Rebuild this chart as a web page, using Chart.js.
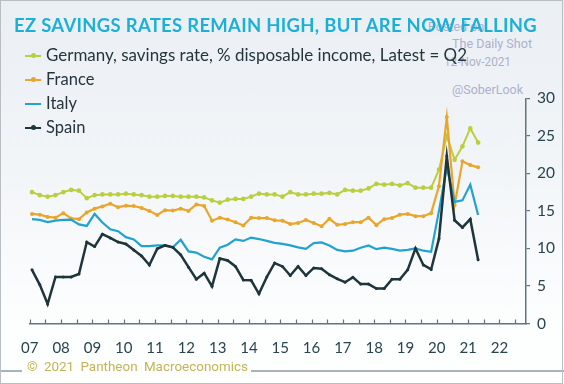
<!DOCTYPE html>
<html>
<head>
<meta charset="utf-8">
<script src="https://cdn.jsdelivr.net/npm/chart.js@4.4.1/dist/chart.umd.min.js"></script>
<style>
  html, body { margin: 0; padding: 0; background: #fff; }
  #wrap { position: relative; width: 564px; height: 384px; overflow: hidden; font-family: Lato, "Noto Sans", sans-serif; }
  #bg { position: absolute; left: 0; top: 0; width: 564px; height: 372px;
        background: linear-gradient(#eaeff4 0%, #f2f5f8 45%, #fdfefe 88%); }
  #frame { position: absolute; left: 0; top: 0; width: 563px; height: 384px; box-sizing: border-box;
           border: 1.5px solid #b9bec2; }
  canvas { position: absolute; left: 0; top: 0; }
  .txt { position: absolute; white-space: nowrap; transform-origin: 0 50%; line-height: 1; }
  #title { left: 14px; top: 16px; font-size: 18px; font-weight: 700; color: #1cb0d9; letter-spacing: 0.3px; }
  .wm { color: #aeb0cc; font-size: 12.5px; font-family: Roboto, sans-serif; }
  .leg { left: 46px; font-size: 16.5px; color: #26353b; }
  .mark { position: absolute; left: 25px; width: 16px; height: 2.5px; }
  .dot { position: absolute; left: 5.5px; top: -1.5px; width: 5px; height: 5px; border-radius: 50%; }
  .sep { position: absolute; top: 370px; height: 2px; background: #a9b3ba; }
  #foot { left: 27px; top: 360px; font-size: 13.5px; color: #c3b455; word-spacing: 3px; font-family: Roboto, sans-serif; }
</style>
</head>
<body>
<div id="wrap">
  <div id="bg"></div>
  <div class="txt wm" style="left:428px;top:21px;">Posted on</div>
  <div class="txt wm" data-w="80" style="left:452px;top:37px;font-size:13.5px;">The Daily Shot</div>
  <div class="txt wm" data-w="67" style="left:444px;top:56px;">12-Nov-2021</div>
  <div class="txt wm" data-w="71" style="left:452px;top:83px;font-size:13.5px;">@SoberLook</div>
  <canvas id="chart" width="564" height="384"></canvas>
  <div id="title" class="txt" data-w="523">EZ SAVINGS RATES REMAIN HIGH, BUT ARE NOW FALLING</div>
  <div id="legend"></div>
  <div class="sep" style="left:0;width:22px;"></div>
  <div class="sep" style="left:251px;width:313px;"></div>
  <div id="foot" class="txt" data-w="221">© 2021 Pantheon Macroeconomics</div>
  <div id="frame"></div>
</div>
<script>
// Quarterly data, 2007 Q1 .. 2021 Q2
const startYear = 2007;
const seriesNames = ['Germany, savings rate, % disposable income, Latest = Q2', 'France', 'Italy', 'Spain'];

const germany = [17.5, 17.1, 16.9, 17.1, 17.5, 17.8, 17.7, 16.7, 17.1, 17.2,
  17.2, 17.2, 17.3, 17.2, 17.1, 16.9, 16.9, 17.0, 17.0, 16.9,
  16.9, 16.9, 16.8, 16.4, 16.1, 16.5, 16.6, 16.6, 16.9, 17.3,
  17.2, 17.2, 16.9, 17.5, 17.2, 17.2, 17.3, 17.3, 17.4, 17.2,
  17.8, 17.7, 17.7, 18.0, 18.6, 18.5, 18.6, 18.4, 18.7, 18.1,
  18.1, 18.1, 20.5, 25.0, 21.8, 23.6, 26.0, 24.1];
const france = [14.6, 14.5, 14.2, 14.1, 14.7, 14.0, 13.9, 14.8, 15.3, 15.6,
  15.95, 15.5, 15.7, 15.65, 15.4, 15.0, 14.45, 15.1, 15.05, 15.3,
  15.0, 15.85, 15.65, 13.7, 14.1, 13.85, 13.5, 13.05, 14.1, 14.05,
  14.05, 13.75, 13.7, 13.25, 13.4, 13.8, 13.4, 12.95, 13.95, 13.15,
  13.25, 13.5, 13.5, 14.1, 13.1, 13.9, 14.05, 14.5, 14.6, 14.3,
  14.3, 14.7, 18.3, 27.5, 15.8, 21.6, 21.1, 20.8];
const italy = [13.9, 13.8, 13.5, 13.7, 13.8, 13.85, 13.2, 13.0, 14.6, 13.45,
  12.55, 12.3, 11.5, 11.2, 10.3, 10.3, 10.4, 10.4, 10.15, 11.15,
  9.6, 9.45, 8.9, 8.55, 10.1, 10.5, 11.2, 11.0, 11.45, 11.25,
  11.0, 10.75, 10.6, 10.4, 10.15, 9.95, 10.7, 10.8, 10.4, 9.8,
  9.6, 9.7, 10.1, 10.4, 9.9, 10.1, 9.95, 9.7, 9.8, 10.0,
  9.7, 9.55, 15.0, 20.8, 16.2, 16.4, 18.5, 14.45];
const spain = [7.15, 5.15, 2.6, 6.2, 6.2, 6.2, 6.6, 10.85, 10.25, 11.9,
  11.4, 10.85, 10.6, 9.8, 9.0, 7.8, 9.95, 10.4, 10.15, 9.15,
  7.5, 5.9, 6.7, 4.95, 8.65, 8.4, 7.6, 5.8, 5.75, 3.95,
  6.2, 8.05, 7.6, 6.4, 7.6, 6.4, 7.4, 7.3, 6.5, 5.95,
  5.5, 6.15, 5.25, 5.25, 4.65, 4.65, 5.9, 5.9, 7.15, 10.0,
  7.8, 7.2, 11.3, 22.3, 13.75, 12.8, 13.9, 8.5];

const yearLabels = ['07', '08', '09', '10', '11', '12', '13', '14', '15', '16', '17', '18', '19', '20', '21', '22'];
const yTicks = [0, 5, 10, 15, 20, 25, 30];

const colors = ['#b9cf3f', '#e9a62b', '#21a2cf', '#1e353b'];
const axisColor = '#62757c';
const labelColor = '#28444c';

// quarter position on the time axis
const quarterX = germany.map((_, i) => startYear + i / 4 + 0.07);
const toPoints = arr => arr.map((v, i) => ({ x: quarterX[i], y: v }));

// legend (html)
const legend = document.getElementById('legend');
const rowY = [55, 79, 103, 127];
seriesNames.forEach((name, i) => {
  const t = document.createElement('div');
  t.className = 'txt leg';
  t.style.top = (rowY[i] - 8) + 'px';
  t.textContent = name;
  if (i === 0) t.dataset.w = 421;
  legend.appendChild(t);
  const m = document.createElement('div');
  m.className = 'mark';
  m.style.top = (rowY[i] - 0.5) + 'px';
  m.style.background = colors[i];
  if (i !== 2) {
    const d = document.createElement('div');
    d.className = 'dot';
    d.style.background = colors[i];
    m.appendChild(d);
  }
  legend.appendChild(m);
});

// small ticks pointing up from the x axis
const xTicksInside = {
  id: 'xTicksInside',
  afterDraw(chart) {
    const xs = chart.scales.x;
    const ctx = chart.ctx;
    const y0 = chart.chartArea.bottom;
    ctx.save();
    ctx.strokeStyle = axisColor;
    ctx.lineWidth = 1.2;
    xs.ticks.forEach(t => {
      const px = Math.round(xs.getPixelForValue(t.value)) + 0.5;
      ctx.beginPath();
      ctx.moveTo(px, y0);
      ctx.lineTo(px, y0 - 4);
      ctx.stroke();
    });
    ctx.restore();
  }
};

const datasets = [
  { label: seriesNames[0], data: toPoints(germany), borderColor: colors[0], backgroundColor: colors[0],
    borderWidth: 2, pointRadius: 2.3, pointBorderWidth: 0, order: 4 },
  { label: seriesNames[1], data: toPoints(france), borderColor: colors[1], backgroundColor: colors[1],
    borderWidth: 2.2, pointRadius: 2, pointBorderWidth: 0, order: 3 },
  { label: seriesNames[2], data: toPoints(italy), borderColor: colors[2], backgroundColor: colors[2],
    borderWidth: 2.2, pointRadius: 0, order: 2 },
  { label: seriesNames[3], data: toPoints(spain), borderColor: colors[3], backgroundColor: colors[3],
    borderWidth: 2.5, pointRadius: 1.5, pointBorderWidth: 0, order: 1 }
];

new Chart(document.getElementById('chart'), {
  type: 'line',
  data: { datasets },
  plugins: [xTicksInside],
  options: {
    responsive: false,
    animation: false,
    events: [],
    layout: { padding: { left: 29.3, top: 98.3, right: 0, bottom: 0 } },
    plugins: { legend: { display: false }, tooltip: { enabled: false } },
    elements: { line: { tension: 0 } },
    scales: {
      x: {
        type: 'linear',
        min: 2006.984,
        max: 2022.85,
        afterBuildTicks: scale => {
          const ticks = [];
          for (let k = 0; k < yearLabels.length * 2; k++) ticks.push({ value: startYear + k / 2 });
          scale.ticks = ticks;
        },
        afterFit: scale => { scale.height = 384 - 323.5; },
        grid: { display: false },
        border: { display: true, color: axisColor, width: 1.5 },
        ticks: {
          autoSkip: false,
          maxRotation: 0,
          padding: 8,
          color: labelColor,
          font: { family: 'Lato, "Noto Sans", sans-serif', size: 15 },
          callback: (value, index) => index % 2 === 0 ? yearLabels[index / 2] : ''
        }
      },
      y: {
        position: 'right',
        min: 0,
        max: 30,
        afterBuildTicks: scale => { scale.ticks = yTicks.map(v => ({ value: v })); },
        afterFit: scale => { scale.width = 564 - 526; },
        grid: { drawOnChartArea: false, drawTicks: true, tickLength: 4, color: axisColor, lineWidth: 1.2 },
        border: { display: true, color: axisColor, width: 1.5 },
        ticks: { padding: 7, color: labelColor, font: { family: 'Lato, "Noto Sans", sans-serif', size: 15.5 } }
      }
    }
  }
});

// stretch text blocks to the widths measured on the reference
function fitText() {
  document.querySelectorAll('[data-w]').forEach(el => {
    el.style.transform = '';
    const w = el.getBoundingClientRect().width;
    if (w > 0) el.style.transform = 'scaleX(' + (el.dataset.w / w) + ')';
  });
}
fitText();
if (document.fonts) document.fonts.ready.then(fitText);
</script>
</body>
</html>
